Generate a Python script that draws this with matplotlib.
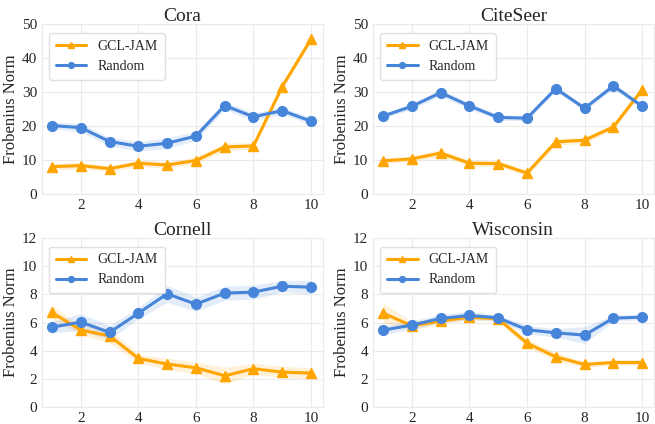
import numpy as np
import matplotlib
matplotlib.use("Agg")
import matplotlib.pyplot as plt
import seaborn as sns

sns.set_style("whitegrid")
plt.rcParams['font.family'] = ['Liberation Serif', 'DejaVu Serif']

epochs = [1, 2, 3, 4, 5, 6, 7, 8, 9, 10]
titles = ['Cora', 'CiteSeer', 'Cornell', 'Wisconsin']

# GCL-JAM means / spread
jam_cora = [8.0, 8.3, 7.4, 9.0, 8.5, 9.8, 13.8, 14.1, 31.6, 45.6]
jam_citeseer = [9.7, 10.3, 12.0, 9.0, 8.9, 6.1, 15.3, 15.8, 19.7, 30.7]
jam_cornell = [6.72, 5.47, 5.07, 3.47, 3.07, 2.81, 2.24, 2.74, 2.50, 2.43]
jam_wisconsin = [6.67, 5.78, 6.11, 6.39, 6.27, 4.55, 3.58, 3.04, 3.18, 3.18]
jam_cora_sd = [0.9, 1.0, 0.8, 1.0, 0.9, 1.0, 1.2, 0.9, 0.8, 0.8]
jam_citeseer_sd = [0.8, 0.8, 1.0, 0.9, 0.9, 0.9, 0.9, 1.0, 0.8, 0.8]
jam_cornell_sd = [0.5, 0.3, 0.5, 0.3, 0.4, 0.4, 0.6, 0.4, 0.4, 0.4]
jam_wisconsin_sd = [0.7, 0.3, 0.2, 0.2, 0.2, 0.3, 0.3, 0.2, 0.2, 0.2]

# Random means / spread
rnd_cora = [20.1, 19.5, 15.4, 14.0, 14.9, 17.0, 26.0, 22.7, 24.5, 21.4]
rnd_citeseer = [22.9, 25.8, 29.8, 25.9, 22.5, 22.3, 31.0, 25.2, 31.8, 25.8]
rnd_cornell = [5.68, 6.04, 5.31, 6.67, 8.04, 7.31, 8.09, 8.16, 8.58, 8.51]
rnd_wisconsin = [5.47, 5.83, 6.30, 6.51, 6.34, 5.50, 5.28, 5.12, 6.32, 6.39]
rnd_cora_sd = [1.0, 1.2, 1.3, 1.4, 1.6, 1.3, 1.2, 1.2, 1.0, 1.0]
rnd_citeseer_sd = [0.8, 0.8, 1.0, 0.9, 0.8, 0.8, 0.8, 0.8, 0.8, 0.8]
rnd_cornell_sd = [0.4, 0.6, 0.5, 0.4, 0.6, 0.5, 0.5, 0.5, 0.4, 0.5]
rnd_wisconsin_sd = [0.3, 0.3, 0.3, 0.3, 0.2, 0.3, 0.3, 0.6, 0.2, 0.2]

jam_all = [jam_cora, jam_citeseer, jam_cornell, jam_wisconsin]
jam_sd_all = [jam_cora_sd, jam_citeseer_sd, jam_cornell_sd, jam_wisconsin_sd]
rnd_all = [rnd_cora, rnd_citeseer, rnd_cornell, rnd_wisconsin]
rnd_sd_all = [rnd_cora_sd, rnd_citeseer_sd, rnd_cornell_sd, rnd_wisconsin_sd]
ylims = [50, 50, 12, 12]
yticks = [[0, 10, 20, 30, 40, 50], [0, 10, 20, 30, 40, 50],
          [0, 2, 4, 6, 8, 10, 12], [0, 2, 4, 6, 8, 10, 12]]

orange = '#ffa500'
blue = '#4685d9'

fig, axes = plt.subplots(2, 2, figsize=(6.55, 4.24), dpi=100)
plt.subplots_adjust(left=0.064, right=0.998, top=0.943, bottom=0.039,
                    wspace=0.18, hspace=0.26)

x = np.array(epochs)
for i, ax in enumerate(axes.flat):
    j = np.array(jam_all[i]); js = np.array(jam_sd_all[i])
    r = np.array(rnd_all[i]); rs = np.array(rnd_sd_all[i])
    ax.fill_between(x, j - js, j + js, color=orange, alpha=0.15, linewidth=0)
    ax.fill_between(x, r - rs, r + rs, color=blue, alpha=0.15, linewidth=0)
    ax.plot(x, j, color=orange, marker='^', markersize=7, linewidth=2.2, label='GCL-JAM')
    ax.plot(x, r, color=blue, marker='o', markersize=7, linewidth=2.2, label='Random')
    ax.set_title(titles[i], fontsize=14, pad=2)
    ax.set_ylabel('Frobenius Norm', fontsize=12, labelpad=2)
    ax.set_ylim(0, ylims[i])
    ax.set_yticks(yticks[i])
    ax.set_xlim(0.65, 10.4)
    ax.set_xticks([2, 4, 6, 8, 10])
    ax.tick_params(labelsize=11, pad=0)
    ax.grid(color='#ebebeb', linewidth=0.8)
    for s in ax.spines.values():
        s.set_color('#ebebeb')
    ax.legend(loc='upper left', fontsize=10, markerscale=0.6, handlelength=2.2,
              framealpha=1, edgecolor='#e0e0e0', borderpad=0.5,
              bbox_to_anchor=(0.0, 0.99))

fig.savefig('out.png', dpi=100)
